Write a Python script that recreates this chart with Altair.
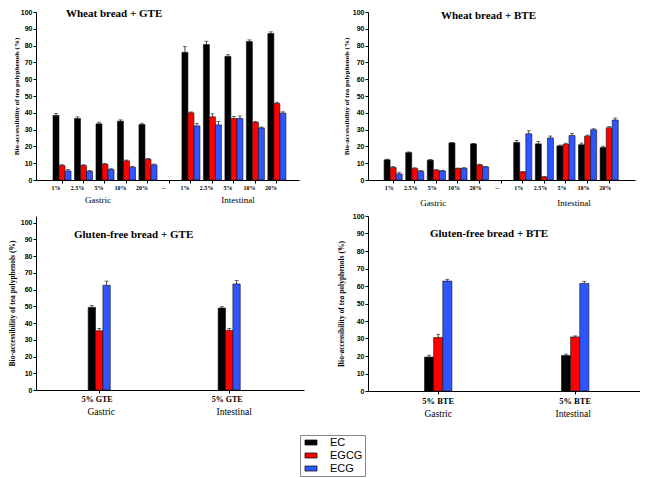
import altair as alt
import pandas as pd

SERIF = "Liberation Serif"
SANS = "Liberation Sans"

compounds = ["EC", "EGCG", "ECG"]
colors = ["#000000", "#ff0000", "#2f55ff"]
levels = ["1%", "2.5%", "5%", "10%", "20%"]
phases = ["Gastric", "Intestinal"]
ytitle = "Bio-accessibility of tea polyphenols (%)"
yticks = [0, 10, 20, 30, 40, 50, 60, 70, 80, 90, 100]

# Wheat bread + GTE  (5 gastric levels, then 5 intestinal levels)
wgte_ec = [38.4, 36.6, 33.4, 35.0, 33.0, 76.0, 80.6, 73.6, 82.4, 87.2]
wgte_egcg = [8.6, 8.6, 9.4, 11.4, 12.4, 40.0, 37.6, 36.6, 34.4, 45.6]
wgte_ecg = [5.4, 5.2, 6.2, 7.6, 9.0, 32.2, 32.8, 36.6, 31.0, 39.8]
wgte_ec_err = [1.2, 1.0, 1.0, 0.8, 0.8, 3.5, 2.0, 1.0, 1.0, 1.0]
wgte_egcg_err = [0.5, 0.5, 0.5, 0.5, 0.5, 0.5, 1.8, 1.2, 0.5, 0.7]
wgte_ecg_err = [0.8, 0.5, 0.5, 0.5, 0.5, 1.5, 2.0, 1.5, 0.5, 0.8]

# Wheat bread + BTE
wbte_ec = [12.0, 16.3, 11.8, 22.1, 21.5, 22.3, 21.5, 20.3, 21.0, 19.3]
wbte_egcg = [7.4, 6.8, 5.8, 6.8, 9.0, 4.8, 1.8, 21.3, 26.1, 31.1]
wbte_ecg = [3.6, 5.2, 5.4, 7.0, 7.8, 27.5, 25.0, 26.5, 29.9, 35.7]
wbte_ec_err = [0.4, 0.4, 0.4, 0.3, 0.3, 1.2, 1.5, 0.5, 1.0, 0.8]
wbte_egcg_err = [0.6, 0.5, 0.4, 0.3, 0.4, 0.3, 0.3, 0.6, 0.6, 0.8]
wbte_ecg_err = [1.0, 0.5, 0.3, 0.3, 0.3, 1.8, 1.2, 1.2, 0.6, 1.2]

# Gluten-free bread + GTE (gastric, intestinal)
gfgte_ec = [49.4, 49.0]
gfgte_egcg = [35.4, 35.6]
gfgte_ecg = [62.6, 63.4]
gfgte_ec_err = [1.2, 0.8]
gfgte_egcg_err = [1.3, 1.2]
gfgte_ecg_err = [2.5, 2.0]

# Gluten-free bread + BTE
gfbte_ec = [19.4, 20.3]
gfbte_egcg = [30.6, 30.9]
gfbte_ecg = [62.8, 61.5]
gfbte_ec_err = [1.0, 0.8]
gfbte_egcg_err = [1.8, 0.6]
gfbte_ecg_err = [1.0, 1.2]

top_keys = ["G|" + l for l in levels] + ["gap|--"] + ["I|" + l for l in levels]
top_data_keys = ["G|" + l for l in levels] + ["I|" + l for l in levels]


def make_df(keys, ec, egcg, ecg, ec_e, egcg_e, ecg_e):
    rows = []
    for comp, vals, errs in [("EC", ec, ec_e), ("EGCG", egcg, egcg_e), ("ECG", ecg, ecg_e)]:
        for k, v, e in zip(keys, vals, errs):
            rows.append({"key": k, "compound": comp, "value": v, "hi": v + e})
    return pd.DataFrame(rows)


def panel(df, domain, xscale, width, height, ydomain, title, tx, ty,
          label_size, label_offset, label_pad, ytitle_size, ytitle_pad,
          phase_keys, phase_dx, phase_dy, phase_size, legend=None):
    x_enc = alt.X("key:N", scale=alt.Scale(domain=domain, **xscale),
                  axis=alt.Axis(title=None, labelAngle=0, labelExpr="split(datum.value, '|')[1]",
                                labelFont=SERIF, labelFontWeight="bold", labelFontSize=label_size,
                                labelOffset=label_offset, labelPadding=label_pad, tickSize=3,
                                labelOverlap=False,
                                labelColor="black", tickColor="black", domainColor="black"))
    xo = alt.XOffset("compound:N", scale=alt.Scale(domain=compounds, paddingInner=0, paddingOuter=0))
    yscale = alt.Scale(domain=ydomain, nice=False, zero=True)
    yaxis = alt.Axis(title=ytitle, values=yticks, grid=False, tickCount=11,
                     labelOverlap=False, labelFlush=False,
                     labelFont=SANS, labelFontWeight="bold", labelFontSize=7,
                     labelColor="black", labelPadding=1, tickSize=3,
                     tickColor="black", domainColor="black",
                     titleFont=SERIF, titleFontWeight="bold", titleFontSize=ytitle_size,
                     titleColor="black", titlePadding=ytitle_pad)
    y_val = alt.Y("value:Q", scale=yscale, axis=yaxis, title=ytitle)
    y_hi = alt.Y("hi:Q", scale=yscale, axis=yaxis, title=ytitle)
    if legend is None:
        color = alt.Color("compound:N", scale=alt.Scale(domain=compounds, range=colors), legend=None)
    else:
        color = alt.Color("compound:N", scale=alt.Scale(domain=compounds, range=colors), legend=legend)
    bars = alt.Chart(df).mark_bar(stroke="#111111", strokeWidth=0.6).encode(
        x=x_enc, xOffset=xo, y=y_val, color=color)
    err = alt.Chart(df).mark_rule(color="#111111", strokeWidth=0.8).encode(
        x=x_enc, xOffset=xo, y=y_val, y2="hi:Q")
    cap = alt.Chart(df).mark_tick(color="#111111", thickness=0.8, size=4).encode(
        x=x_enc, xOffset=xo, y=y_hi)
    layers = [bars, err, cap]
    for k, lab, dx in zip(phase_keys, phases, phase_dx):
        t = alt.Chart(pd.DataFrame({"key": [k], "label": [lab]})).mark_text(
            font=SERIF, fontSize=phase_size, color="black", dx=dx, baseline="middle").encode(
            x=x_enc, y=alt.value(height + phase_dy), text="label:N")
        layers.append(t)
    ttl = alt.Chart(pd.DataFrame({"t": [title]})).mark_text(
        font=SERIF, fontWeight="bold", fontSize=11, color="black", align="left",
        baseline="middle").encode(x=alt.value(tx), y=alt.value(ty), text="t:N")
    layers.append(ttl)
    return alt.layer(*layers).properties(width=width, height=height)


legend = alt.Legend(orient="none", legendX=264, legendY=219, direction="vertical", title=None,
                    symbolType="M-0.5,-0.5H1.9V0.5H-0.5Z", symbolSize=100,
                    symbolStrokeColor="#111111", symbolStrokeWidth=0.8, symbolOpacity=1,
                    labelFont=SANS, labelFontSize=11, labelColor="black", labelOffset=17,
                    strokeColor="#888888", fillColor="white", padding=2, rowPadding=1)

tl = panel(make_df(top_data_keys, wgte_ec, wgte_egcg, wgte_ecg, wgte_ec_err, wgte_egcg_err, wgte_ecg_err),
           top_keys, dict(paddingInner=0.16, paddingOuter=0.7, align=0.565), 263, 168, [0, 100],
           "Wheat bread + GTE", 30, 2, 6, -6, 1, 7, 1,
           ["G|5%", "I|5%"], [-7, 4], 20, 9)
tr = panel(make_df(top_data_keys, wbte_ec, wbte_egcg, wbte_ecg, wbte_ec_err, wbte_egcg_err, wbte_ecg_err),
           top_keys, dict(paddingInner=0.16, paddingOuter=0.76, align=0.49), 267, 168, [0, 100],
           "Wheat bread + BTE", 73, 4, 6, -4, 1, 7, 3,
           ["G|5%", "I|5%"], [-3, 8], 23, 9)
bl = panel(make_df(["5% GTE|5% GTE", "5% GTE |5% GTE"], gfgte_ec, gfgte_egcg, gfgte_ecg,
                   gfgte_ec_err, gfgte_egcg_err, gfgte_ecg_err),
           ["5% GTE|5% GTE", "5% GTE |5% GTE"], dict(paddingInner=0.83, paddingOuter=0.446, align=0.45),
           268, 174, [0, 104], "Gluten-free bread + GTE", 38, 19, 8, -2, 2, 7.5, 3.5,
           ["5% GTE|5% GTE", "5% GTE |5% GTE"], [2, 5], 22, 9.5, legend=legend)
br = panel(make_df(["5% BTE|5% BTE", "5% BTE |5% BTE"], gfbte_ec, gfbte_egcg, gfbte_ecg,
                   gfbte_ec_err, gfbte_egcg_err, gfbte_ecg_err),
           ["5% BTE|5% BTE", "5% BTE |5% BTE"], dict(paddingInner=0.8, paddingOuter=0.393, align=0.525),
           272, 175, [0, 100], "Gluten-free bread + BTE", 62, 18, 8.5, 0, 2, 7.5, 7,
           ["5% BTE|5% BTE", "5% BTE |5% BTE"], [0, -2], 23, 9.5)

chart = alt.concat(tl, tr, bl, br, columns=2, spacing={"row": 36, "column": 64}, bounds="flush").resolve_scale(
    x="independent", y="independent", color="independent", xOffset="independent"
).properties(
    padding={"left": 0, "top": 0, "right": 0, "bottom": 0},
    background="white",
).configure_view(strokeWidth=0)

chart.save("out.html", embed_options={"renderer": "svg", "actions": False})
